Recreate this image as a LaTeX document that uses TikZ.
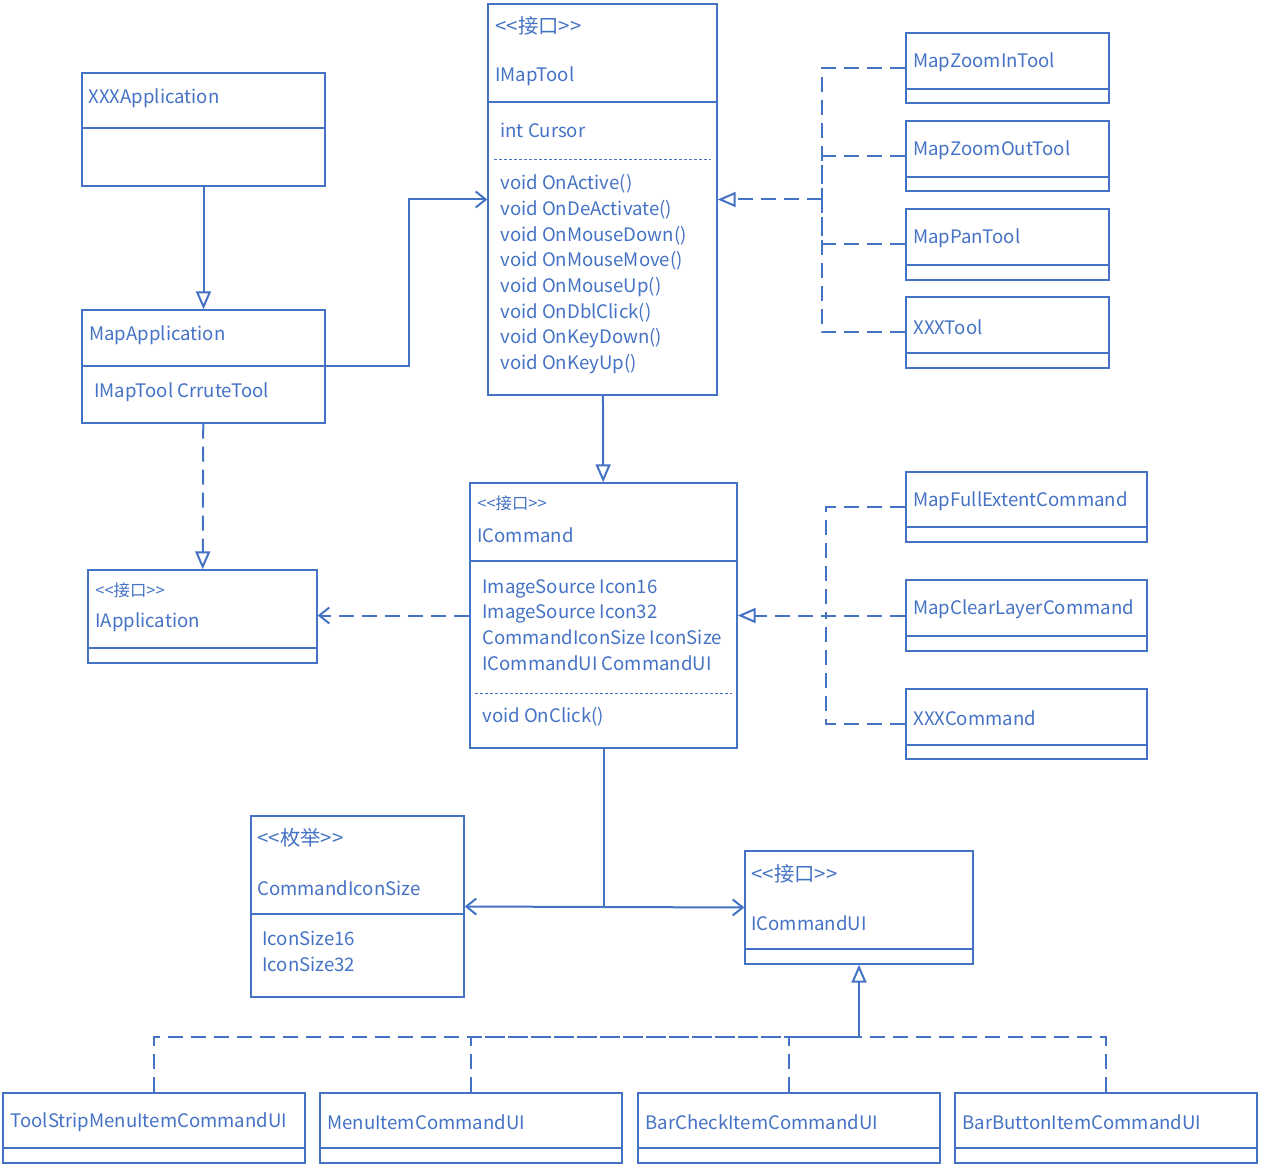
\documentclass[tikz,border=0pt]{standalone}
\usepackage{fontspec}
\setmainfont{Noto Sans CJK SC}
\usepackage{xcolor}
\definecolor{UmlBlue}{RGB}{68,114,196}
\usetikzlibrary{positioning, arrows.meta, fit}

\newcommand{\ster}[1]{{<}{<}#1{>}{>}}

\begin{document}
\begin{tikzpicture}[
    x=0.5pt, y=-0.5pt,
    classbox/.style={draw=UmlBlue, line width=0.7pt, inner sep=0pt},
    divider/.style={draw=UmlBlue, line width=0.7pt},
    opsline/.style={draw=UmlBlue, line width=0.5pt, dash pattern=on 1.5pt off 1pt},
    txt/.style={anchor=west, inner sep=0pt, yshift=-1pt, text=UmlBlue, font=\fontsize{9.3pt}{12.85pt}\selectfont, align=left},
    bigstereo/.style={txt, font=\fontsize{10.2pt}{12pt}\selectfont},
    stereo/.style={txt, font=\fontsize{8.2pt}{10pt}\selectfont},
    link/.style={draw=UmlBlue, line width=1pt},
    dline/.style={link, dash pattern=on 7.5pt off 4pt},
    inherit/.style={link, -{Triangle[open, length=9pt, width=7.5pt]}},
    realize/.style={dline, -{Triangle[open, length=9pt, width=7.5pt]}},
    assoc/.style={link, -{Straight Barb[length=5pt, width=8pt]}},
    depend/.style={dline, -{Straight Barb[length=5pt, width=8pt]}},
]
\useasboundingbox (0,0) rectangle (1264,1171);

% Applications
\node[classbox, fit={(82,73) (325,186)}] (xxxapp) {};
\draw[divider] (82,128) -- (325,128);
\node[txt] (xxxappname) at (88,96) {XXXApplication};

\node[classbox, fit={(82,310) (325,423)}] (mapapp) {};
\draw[divider] (82,366) -- (325,366);
\node[txt] (mapappname) at (89,333) {MapApplication};
\node[txt] (mapappattr) at (94,390) {IMapTool CrruteTool};

\node[classbox, fit={(88,570) (317,663)}] (iapp) {};
\draw[divider] (88,648) -- (317,648);
\node[stereo] (iappstereo) at (95,588) {\ster{接口}};
\node[txt] (iappname) at (95,620) {IApplication};

% IMapTool
\node[classbox, fit={(488,4) (717,395)}] (imaptool) {};
\draw[divider] (488,102) -- (717,102);
\draw[opsline] (494,160) -- (711,160);
\node[bigstereo] (imaptoolstereo) at (495,24) {\ster{接口}};
\node[txt] (imaptoolname) at (495,74) {IMapTool};
\node[txt] (imaptoolattr) at (500,128) {int Cursor};
\node[txt, anchor=north west] (imaptoolops) at (500,172) {void OnActive()\\void OnDeActivate()\\void OnMouseDown()\\void OnMouseMove()\\void OnMouseUp()\\void OnDblClick()\\void OnKeyDown()\\void OnKeyUp()};

% Tools
\node[classbox, fit={(906,33) (1109,103)}] (zoomin) {};
\draw[divider] (906,89) -- (1109,89);
\node[txt] (zoominname) at (913,60) {MapZoomInTool};

\node[classbox, fit={(906,121) (1109,191)}] (zoomout) {};
\draw[divider] (906,177) -- (1109,177);
\node[txt] (zoomoutname) at (913,148) {MapZoomOutTool};

\node[classbox, fit={(906,209) (1109,280)}] (pantool) {};
\draw[divider] (906,265) -- (1109,265);
\node[txt] (pantoolname) at (913,236) {MapPanTool};

\node[classbox, fit={(906,297) (1109,368)}] (xxxtool) {};
\draw[divider] (906,353) -- (1109,353);
\node[txt] (xxxtoolname) at (913,325) {XXXTool};

% ICommand
\node[classbox, fit={(470,483) (737,748)}] (icommand) {};
\draw[divider] (470,561) -- (737,561);
\draw[opsline] (475,693) -- (732,693);
\node[stereo] (icommandstereo) at (477,501) {\ster{接口}};
\node[txt] (icommandname) at (477,533) {ICommand};
\node[txt, anchor=north west] (icommandattr) at (482,577) {ImageSource Icon16\\ImageSource Icon32\\CommandIconSize IconSize\\ICommandUI CommandUI};
\node[txt] (icommandops) at (482,715) {void OnClick()};

% Commands
\node[classbox, fit={(906,472) (1147,542)}] (fullext) {};
\draw[divider] (906,527) -- (1147,527);
\node[txt] (fullextname) at (913,499) {MapFullExtentCommand};

\node[classbox, fit={(906,580) (1147,651)}] (clearlayer) {};
\draw[divider] (906,636) -- (1147,636);
\node[txt] (clearlayername) at (913,607) {MapClearLayerCommand};

\node[classbox, fit={(906,689) (1147,759)}] (xxxcmd) {};
\draw[divider] (906,745) -- (1147,745);
\node[txt] (xxxcmdname) at (913,716) {XXXCommand};

% CommandIconSize / ICommandUI
\node[classbox, fit={(251,816) (464,997)}] (iconsize) {};
\draw[divider] (251,914) -- (464,914);
\node[bigstereo] (iconsizestereo) at (257,836) {\ster{枚举}};
\node[txt] (iconsizename) at (257,886) {CommandIconSize};
\node[txt, anchor=north west] (iconsizevals) at (262,929) {IconSize16\\IconSize32};

\node[classbox, fit={(745,851) (973,964)}] (icmdui) {};
\draw[divider] (745,949) -- (973,949);
\node[bigstereo] (icmduistereo) at (751,872) {\ster{接口}};
\node[txt] (icmduiname) at (751,921) {ICommandUI};

% CommandUI implementations
\node[classbox, fit={(3,1093) (305,1163)}] (tsmiui) {};
\draw[divider] (3,1148) -- (305,1148);
\node[txt] (tsmiuiname) at (10,1120) {ToolStripMenuItemCommandUI};

\node[classbox, fit={(320,1093) (622,1163)}] (menuui) {};
\draw[divider] (320,1148) -- (622,1148);
\node[txt] (menuuiname) at (327,1120) {MenuItemCommandUI};

\node[classbox, fit={(638,1093) (940,1163)}] (checkui) {};
\draw[divider] (638,1148) -- (940,1148);
\node[txt] (checkuiname) at (645,1120) {BarCheckItemCommandUI};

\node[classbox, fit={(955,1093) (1257,1163)}] (buttonui) {};
\draw[divider] (955,1148) -- (1257,1148);
\node[txt] (buttonuiname) at (962,1120) {BarButtonItemCommandUI};

% Junctions
\coordinate (appbend) at (409,366.5);
\coordinate (toolbus) at (822,199.5);
\coordinate (cmdbus) at (826,615.5);
\coordinate (split) at (603.5,907);
\coordinate (uibus) at (859,1037);

% Arrows
\draw[inherit] (xxxapp) -- (mapapp);
\draw[realize] (mapapp) -- (iapp);
\draw[assoc] (mapapp.east) -- (appbend) |- (imaptool.west);
\draw[inherit] (imaptool) -- (icommand);
\draw[depend] (icommand.west) -- (iapp.east |- icommand.west);

\draw[dline] (zoomin.west) -| (toolbus);
\draw[dline] (zoomout.west) -| (toolbus);
\draw[dline] (pantool.west) -| (toolbus);
\draw[dline] (xxxtool.west) -| (toolbus);
\draw[realize] (toolbus) -- (imaptool.east);

\draw[dline] (fullext.west) -| (cmdbus);
\draw[dline] (xxxcmd.west) -| (cmdbus);
\draw[realize] (clearlayer.west) -- (icommand.east);

\draw[link] (icommand.south) -- (split);
\draw[assoc] (split) -- (iconsize.east);
\draw[assoc] (split) -- (icmdui.west);

\draw[dline] (tsmiui.north) |- (uibus);
\draw[dline] (menuui.north) |- (uibus);
\draw[dline] (checkui.north) |- (uibus);
\draw[dline] (buttonui.north) |- (uibus);
\draw[inherit] (uibus) -- (icmdui.south);

\end{tikzpicture}
\end{document}
